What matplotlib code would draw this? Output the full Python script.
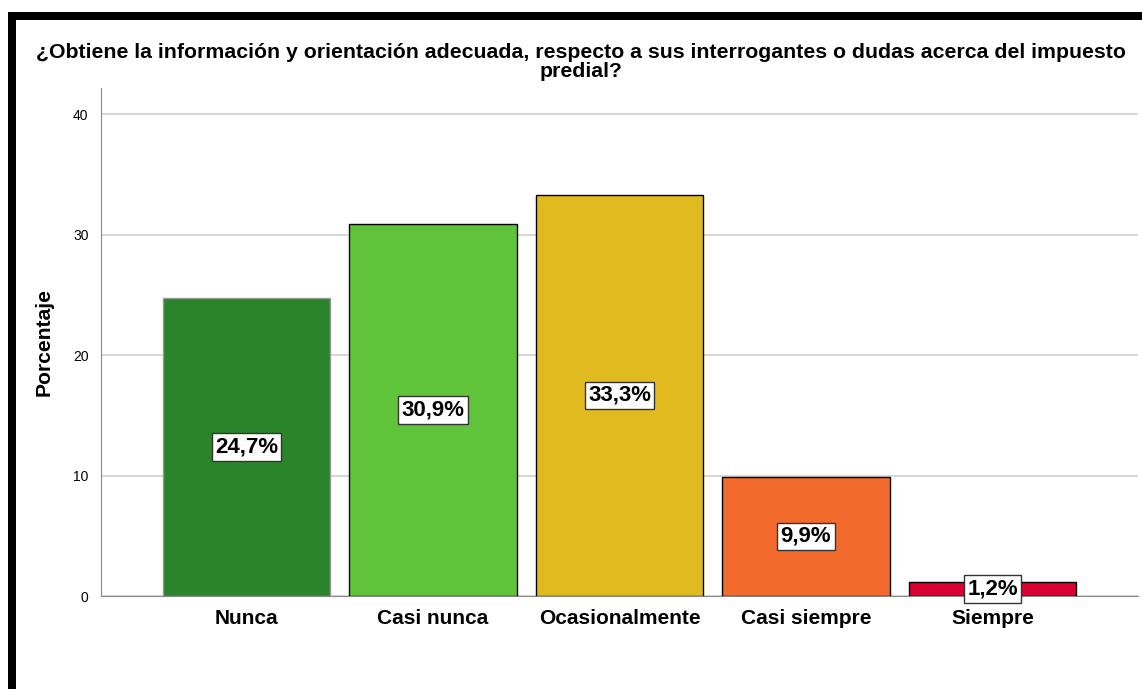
import matplotlib
matplotlib.use("Agg")
import matplotlib.pyplot as plt
from matplotlib.patches import Rectangle

plt.rcParams['font.family'] = ['Liberation Sans', 'DejaVu Sans']

### DATA

categorias = ["Nunca", "Casi nunca", "Ocasionalmente", "Casi siempre", "Siempre"]
porcentajes = [24.7, 30.9, 33.3, 9.9, 1.2]
etiquetas = ["24,7%", "30,9%", "33,3%", "9,9%", "1,2%"]
colores = ["#2a852a", "#60c43a", "#e0bb20", "#f26a2c", "#d90032"]
bordes = ["#9a9a9a", "black", "black", "black", "black"]
y_ticks = [0, 10, 20, 30, 40]

titulo = ("¿Obtiene la información y orientación adecuada, respecto a sus interrogantes o dudas acerca del impuesto\n"
          "predial?")

### PLOT

fig = plt.figure(figsize=(11.42, 6.89), dpi=100)
ax = fig.add_axes([101 / 1142, 1 - 596 / 689, (1138 - 101) / 1142, (596 - 88) / 689])

x = range(len(categorias))
ax.bar(x, porcentajes, width=0.9, color=colores, edgecolor=bordes, linewidth=1.0, zorder=3)

# value labels in the middle of each bar
for i, (v, txt) in enumerate(zip(porcentajes, etiquetas)):
    ax.text(i, v / 2, txt, ha="center", va="center", fontsize=16, fontweight="bold", zorder=5,
            bbox=dict(boxstyle="square,pad=0.15", facecolor="white", edgecolor="#333333", linewidth=1))

ax.set_xlim(-0.78, 4.78)
ax.set_ylim(0, 42.16)
ax.set_yticks(y_ticks)
ax.set_yticklabels([str(t) for t in y_ticks], fontsize=10)
ax.set_xticks(list(x))
ax.set_xticklabels(categorias, fontsize=15, fontweight="bold")
ax.tick_params(axis="x", length=0, pad=9)
ax.tick_params(axis="y", length=0, pad=9)

ax.grid(axis="y", color="#d0d0d0", linewidth=1.2, zorder=0)
for s in ["top", "right"]:
    ax.spines[s].set_visible(False)
ax.spines["left"].set_color("#888888")
ax.spines["bottom"].set_color("#888888")

ax.set_ylabel("Porcentaje", fontsize=15.2, fontweight="bold", labelpad=14)

fig.text(581 / 1142, 1 - 62 / 689, titulo, ha="center", va="center", fontsize=15.3,
         fontweight="bold", linespacing=0.95)

# black frame along top and left of the screenshot
fig.patches.append(Rectangle((8 / 1142, 1 - 20 / 689), 1, 8 / 689, transform=fig.transFigure,
                             facecolor="black", edgecolor="none"))
fig.patches.append(Rectangle((8 / 1142, 0), 8 / 1142, 1 - 12 / 689, transform=fig.transFigure,
                             facecolor="black", edgecolor="none"))

fig.savefig("out.png", dpi=100)
